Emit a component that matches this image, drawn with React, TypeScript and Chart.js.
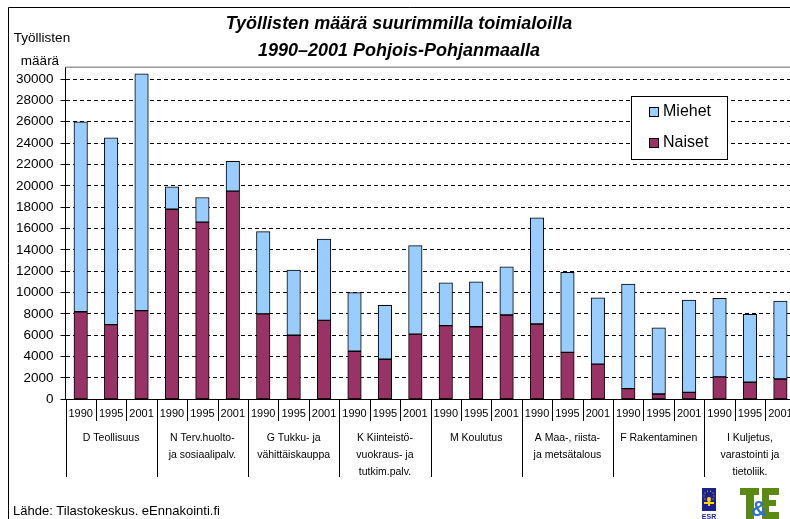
import React, { useEffect, useRef } from 'react';
import { Chart, registerables } from 'chart.js';

Chart.register(...registerables);

// ---- data ----
const years = ['1990', '1995', '2001'];
const groups: string[][] = [
  ['D Teollisuus'],
  ['N Terv.huolto-', 'ja sosiaalipalv.'],
  ['G Tukku- ja', 'vähittäiskauppa'],
  ['K Kiinteistö-', 'vuokraus- ja', 'tutkim.palv.'],
  ['M Koulutus'],
  ['A Maa-, riista-', 'ja metsätalous'],
  ['F Rakentaminen'],
  ['I Kuljetus,', 'varastointi ja', 'tietoliik.'],
];
const naiset = [
  8200, 7000, 8300,
  17800, 16600, 19500,
  8000, 6000, 7400,
  4500, 3750, 6100,
  6900, 6800, 7900,
  7050, 4400, 3300,
  1000, 500, 650,
  2100, 1600, 1900,
];
const miehet = [
  17800, 17500, 22200,
  2100, 2300, 2800,
  7700, 6100, 7600,
  5500, 5050, 8300,
  4000, 4200, 4500,
  9950, 7500, 6200,
  9800, 6200, 8650,
  7350, 6350, 7300,
];
const yTickValues = [0, 2000, 4000, 6000, 8000, 10000, 12000, 14000, 16000, 18000, 20000, 22000, 24000, 26000, 28000, 30000];
const titleLines = ['Työllisten määrä suurimmilla toimialoilla', '1990–2001 Pohjois-Pohjanmaalla'];
const yTitleLines = ['Työllisten', 'määrä'];
const sourceText = 'Lähde: Tilastokeskus. eEnnakointi.fi';

const FONT = '"Liberation Sans", Arial, sans-serif';
const W = 810;
const H = 519;
const PLOT_LEFT = 65.5;
const PLOT_RIGHT = 795.6;
const PLOT_TOP = 67.3;
const PLOT_BOTTOM = 399.3;
const XAXIS_H = 24;

const decorPlugin = {
  id: 'decor',
  beforeDatasetsDraw(chart: any) {
    const { ctx, chartArea } = chart;
    ctx.save();
    ctx.strokeStyle = '#9a9a9a';
    ctx.lineWidth = 1.5;
    ctx.beginPath();
    ctx.moveTo(chartArea.left, chartArea.top);
    ctx.lineTo(chartArea.right, chartArea.top);
    ctx.stroke();
    ctx.restore();
  },
  afterDraw(chart: any) {
    const { ctx, chartArea } = chart;
    const xs = chart.scales.x;
    const n = chart.data.labels.length;
    ctx.save();
    // category separators
    ctx.strokeStyle = '#000';
    ctx.lineWidth = 1;
    for (let i = 0; i <= n; i++) {
      let x: number;
      if (i === 0) x = chartArea.left;
      else if (i === n) x = chartArea.right;
      else x = (xs.getPixelForValue(i - 1) + xs.getPixelForValue(i)) / 2;
      const bottom = i % 3 === 0 ? 477 : 421;
      const xx = Math.round(x) + 0.5;
      ctx.beginPath();
      ctx.moveTo(xx, chartArea.bottom);
      ctx.lineTo(xx, bottom);
      ctx.stroke();
    }
    // group labels
    ctx.fillStyle = '#000';
    ctx.font = `10.5px ${FONT}`;
    ctx.textAlign = 'center';
    ctx.textBaseline = 'middle';
    groups.forEach((lines, g) => {
      const cx = xs.getPixelForValue(g * 3 + 1);
      lines.forEach((l, k) => ctx.fillText(l, cx, 438 + k * 17));
    });
    // legend
    const lx = 631, ly = 96, lw = 96, lh = 63;
    ctx.fillStyle = '#fff';
    ctx.fillRect(lx, ly, lw, lh);
    ctx.strokeStyle = '#000';
    ctx.lineWidth = 1;
    ctx.strokeRect(lx + 0.5, ly + 0.5, lw, lh);
    const order = [1, 0];
    ctx.font = `16px ${FONT}`;
    ctx.textAlign = 'left';
    ctx.textBaseline = 'middle';
    order.forEach((di, k) => {
      const ds = chart.data.datasets[di];
      const cy = 112 + k * 31;
      ctx.fillStyle = ds.backgroundColor;
      ctx.fillRect(649, cy - 5, 10, 10);
      ctx.strokeStyle = '#000';
      ctx.strokeRect(649.5, cy - 4.5, 9, 9);
      ctx.fillStyle = '#000';
      ctx.fillText(ds.label, 663, cy);
    });
    // title
    ctx.font = `italic bold 18px ${FONT}`;
    ctx.textAlign = 'center';
    ctx.textBaseline = 'alphabetic';
    ctx.fillText(titleLines[0], 399, 29);
    ctx.fillText(titleLines[1], 399, 56);
    // y title
    ctx.font = `13.5px ${FONT}`;
    ctx.fillText(yTitleLines[0], 42, 42);
    ctx.fillText(yTitleLines[1], 40, 65);
    // source
    ctx.textAlign = 'left';
    ctx.font = `13px ${FONT}`;
    ctx.fillText(sourceText, 13, 515);
    // outer border
    ctx.strokeStyle = '#000';
    ctx.lineWidth = 1;
    ctx.beginPath();
    ctx.moveTo(8.5, 519);
    ctx.lineTo(8.5, 7.5);
    ctx.lineTo(W, 7.5);
    ctx.stroke();
    // ESR logo
    ctx.fillStyle = '#1c1f8c';
    ctx.fillRect(702, 488, 14, 23);
    ctx.fillStyle = '#ffd400';
    for (let s = 0; s < 10; s++) {
      const a = (s / 10) * Math.PI * 2;
      ctx.fillRect(709 + Math.cos(a) * 5 - 0.5, 496 + Math.sin(a) * 5 - 0.5, 1, 1);
    }
    ctx.beginPath();
    ctx.arc(709, 499, 2, 0, Math.PI * 2);
    ctx.fill();
    ctx.fillRect(708, 500, 2, 6);
    ctx.fillRect(704, 502, 10, 2);
    ctx.fillStyle = '#1c1f8c';
    ctx.font = `bold 7px ${FONT}`;
    ctx.textAlign = 'center';
    ctx.fillText('ESR', 709, 519);
    // T&E logo
    ctx.fillStyle = '#5a8a12';
    ctx.fillRect(740, 488, 19, 7);
    ctx.fillRect(746, 488, 8, 31);
    ctx.fillRect(762, 488, 17, 7);
    ctx.fillRect(762, 488, 7, 31);
    ctx.fillRect(762, 500, 14, 6);
    ctx.fillRect(762, 512, 17, 7);
    ctx.fillStyle = '#2f6fd0';
    ctx.font = `bold 22px ${FONT}`;
    ctx.fillText('&', 759, 516);
    ctx.restore();
  },
};

export default function App() {
  const ref = useRef<HTMLCanvasElement | null>(null);
  useEffect(() => {
    document.body.style.margin = '0';
    Chart.defaults.font.family = FONT;
    const labels: string[] = [];
    groups.forEach(() => years.forEach((y) => labels.push(y)));
    const chart = new Chart(ref.current as HTMLCanvasElement, {
      type: 'bar',
      data: {
        labels,
        datasets: [
          {
            label: 'Naiset',
            data: naiset,
            backgroundColor: '#993366',
            borderColor: '#000',
            borderWidth: 1,
            borderSkipped: false,
            barThickness: 13.5,
          },
          {
            label: 'Miehet',
            data: miehet,
            backgroundColor: '#99ccff',
            borderColor: '#000',
            borderWidth: 1,
            borderSkipped: false,
            barThickness: 13.5,
          },
        ],
      },
      options: {
        responsive: false,
        animation: false,
        layout: {
          padding: {
            left: 0,
            right: W - PLOT_RIGHT,
            top: PLOT_TOP,
            bottom: H - PLOT_BOTTOM - XAXIS_H,
          },
        },
        plugins: {
          legend: { display: false },
          title: { display: false },
          tooltip: { enabled: false },
        },
        scales: {
          x: {
            stacked: true,
            offset: true,
            grid: { display: false, drawTicks: false },
            border: { display: true, color: '#000', width: 1 },
            ticks: {
              color: '#000',
              font: { size: 11 },
              padding: 8,
              maxRotation: 0,
              autoSkip: false,
            },
            afterFit: (s: any) => {
              s.height = XAXIS_H;
            },
          },
          y: {
            stacked: true,
            min: 0,
            max: 31100,
            ticks: {
              color: '#000',
              font: { size: 13.5 },
              padding: 7,
              autoSkip: false,
              callback: (v: any) => String(v),
            },
            afterBuildTicks: (s: any) => {
              s.ticks = yTickValues.map((v) => ({ value: v }));
            },
            afterFit: (s: any) => {
              s.width = PLOT_LEFT;
            },
            grid: {
              color: '#000',
              lineWidth: 1,
              drawTicks: true,
              tickLength: 5,
              tickColor: '#000',
            },
            border: { display: true, color: '#000', width: 1, dash: [4, 3] },
          },
        },
      },
      plugins: [decorPlugin],
    });
    return () => chart.destroy();
  }, []);
  return (
    <div style={{ width: 790, height: 519, overflow: 'hidden', position: 'relative', background: '#fff' }}>
      <canvas ref={ref} width={W} height={H} style={{ display: 'block' }} />
    </div>
  );
}
